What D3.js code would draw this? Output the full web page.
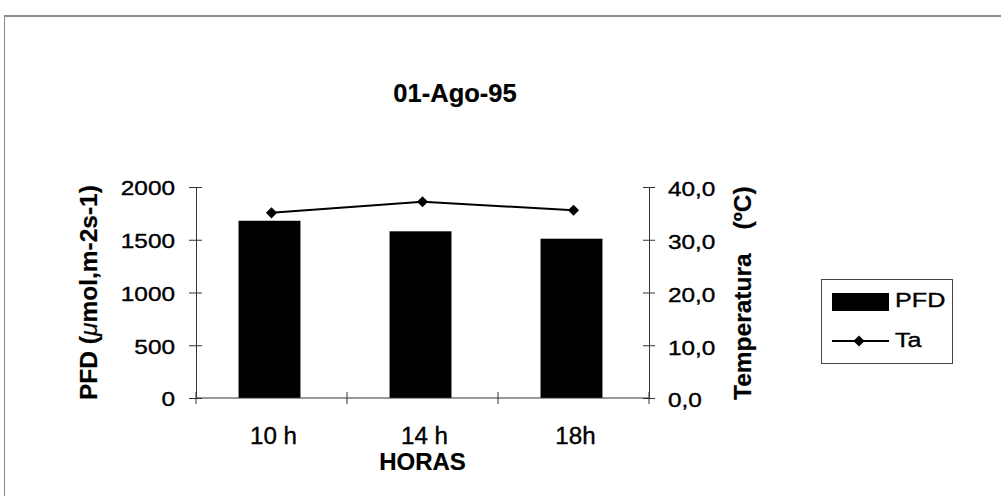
<!DOCTYPE html>
<html><head><meta charset="utf-8">
<script src="https://cdn.jsdelivr.net/npm/d3@7"></script>
<style>body{margin:0;background:#fff}svg{display:block}text{font-family:Arial,"Liberation Sans",sans-serif;fill:#000}</style>
</head><body>
<svg id="c" width="1001" height="496"></svg>
<script>
const categories = ["10 h", "14 h", "18h"];
const pfdValues = [1680, 1580, 1510];
const taValues = [35.1, 37.2, 35.6];
const pfdTicks = [0, 500, 1000, 1500, 2000];
const taTicks = [0, 10, 20, 30, 40];
const title = "01-Ago-95";

const svg = d3.select("#c");
const L = 196, R = 649, T = 187, B = 398;
const TICK_SX = 1.25;

function label(x, y, txt, size, bold, anchor, sx) {
  return svg.append("text")
    .attr("transform", `translate(${x},${y}) scale(${sx},1)`)
    .attr("text-anchor", anchor || "start")
    .style("font-size", size + "px").style("font-weight", bold ? "bold" : "normal")
    .attr("stroke", "#000").attr("stroke-width", bold ? 0.2 : 0.35)
    .text(txt);
}

// frame
svg.append("line").attr("x1",4).attr("x2",1001).attr("y1",16).attr("y2",16).attr("stroke","#666").attr("stroke-width",1.5);
svg.append("line").attr("x1",4.5).attr("x2",4.5).attr("y1",16).attr("y2",496).attr("stroke","#888").attr("stroke-width",1);

const x = d3.scaleBand().domain(categories).range([L,R]).paddingInner(0.59).paddingOuter(0.295);
const yL = d3.scaleLinear().domain([0,2000]).range([B,T]);
const yR = d3.scaleLinear().domain([0,40]).range([B,T]);

// bars
svg.selectAll("rect.bar").data(pfdValues).enter().append("rect")
  .attr("x",(d,i)=>x(categories[i])-2).attr("width",x.bandwidth())
  .attr("y",d=>yL(d)).attr("height",d=>B-yL(d)).attr("fill","#000");

const axisColor = "#333";
// left axis
const gL = svg.append("g").attr("transform",`translate(${L},0)`)
  .call(d3.axisLeft(yL).tickValues(pfdTicks).tickSize(0).tickPadding(0).tickFormat(d3.format("d")));
gL.select(".domain").attr("stroke",axisColor);
gL.selectAll(".tick").append("line").attr("x1",-7).attr("x2",6).attr("stroke",axisColor);
gL.selectAll(".tick text").attr("x",null).attr("dy","0.4em")
  .attr("transform",`translate(-21,0) scale(${TICK_SX},1)`).style("font-size","19.5px")
  .attr("fill","#000").attr("stroke","#000").attr("stroke-width",0.35);

// right axis
const gR = svg.append("g").attr("transform",`translate(${R},0)`)
  .call(d3.axisRight(yR).tickValues(taTicks).tickSize(0).tickPadding(0).tickFormat(d=>d3.format(".1f")(d).replace(".",",")));
gR.select(".domain").attr("stroke",axisColor);
gR.selectAll(".tick").append("line").attr("x1",-6).attr("x2",6).attr("stroke",axisColor);
gR.selectAll(".tick text").attr("x",null).attr("dy","0.45em")
  .attr("transform",`translate(19,0) scale(${TICK_SX},1)`).style("font-size","19.5px")
  .attr("fill","#000").attr("stroke","#000").attr("stroke-width",0.35);

// bottom axis
const step = x.step();
const boundaries = d3.range(categories.length+1).map(i=>L + i*step);
svg.append("line").attr("x1",L).attr("x2",R).attr("y1",B).attr("y2",B).attr("stroke",axisColor);
svg.selectAll("line.xt").data(boundaries).enter().append("line").attr("class","xt")
  .attr("x1",d=>d).attr("x2",d=>d).attr("y1",B-6).attr("y2",B+6).attr("stroke",axisColor);
categories.forEach(c => label(x(c)+x.bandwidth()/2+2, 444, c, 23, false, "middle", 1.05));
label(x(categories[1])+x.bandwidth()/2, 470, "HORAS", 24, true, "middle", 1.0);

// line
const cx = (i) => x(categories[i]) + x.bandwidth()/2;
const line = d3.line().x((d,i)=>cx(i)).y(d=>yR(d));
svg.append("path").datum(taValues).attr("d",line).attr("fill","none").attr("stroke","#000").attr("stroke-width",2);
const diamond = d3.symbol().type(d3.symbolSquare).size(62);
svg.selectAll("path.mk").data(taValues).enter().append("path").attr("class","mk")
  .attr("d",diamond).attr("transform",(d,i)=>`translate(${cx(i)},${yR(d)}) rotate(45)`).attr("fill","#000");

// title
label(455, 102, title, 25.5, true, "middle", 1.0);

// axis titles
const lt = svg.append("text").attr("transform",`translate(97,400) rotate(-90)`).attr("text-anchor","start")
  .style("font-size","24.5px").style("font-weight","bold").attr("stroke","#000").attr("stroke-width",0.2);
lt.append("tspan").text("PFD (");
lt.append("tspan").style("font-weight","normal").style("font-style","italic").text("μ");
lt.append("tspan").text("mol,m-2s-1)");

const rt = svg.append("text").attr("transform",`translate(751,400) rotate(-90)`).attr("text-anchor","start")
  .style("font-size","24.5px").style("font-weight","bold").attr("stroke","#000").attr("stroke-width",0.2);
rt.append("tspan").text("Temperatura");
rt.append("tspan").attr("dx",24).text("(ºC)");

// legend
const lg = svg.append("g");
lg.append("rect").attr("x",821.5).attr("y",279.5).attr("width",131).attr("height",84).attr("fill","#fff").attr("stroke","#444").attr("stroke-width",1);
lg.append("rect").attr("x",832).attr("y",293).attr("width",57).attr("height",18).attr("fill","#000");
label(895, 307, "PFD", 21, false, "start", 1.2);
lg.append("line").attr("x1",832).attr("x2",889).attr("y1",341).attr("y2",341).attr("stroke","#000").attr("stroke-width",2);
lg.append("path").attr("d",diamond).attr("transform","translate(859,341) rotate(45)").attr("fill","#000");
label(895, 347, "Ta", 21, false, "start", 1.2);
</script>
</body></html>
